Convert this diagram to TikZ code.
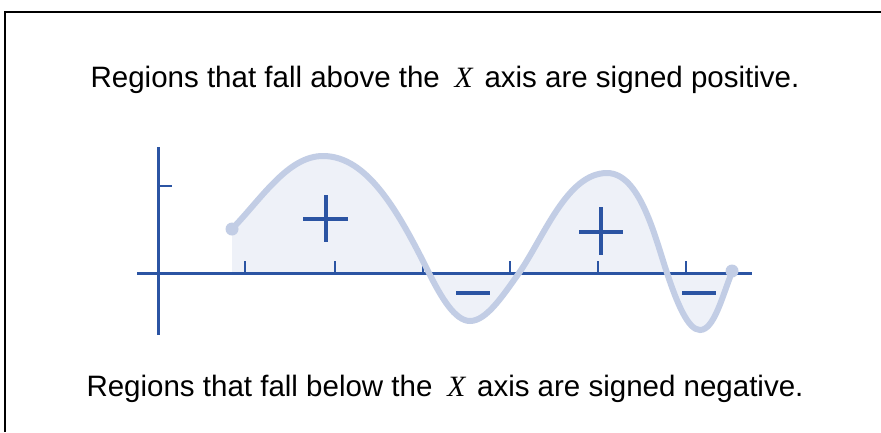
\documentclass[tikz,border=0pt]{standalone}
\usepackage{fontspec}
\setmainfont{Liberation Sans}
\newfontfamily\serifit{Liberation Serif}[ItalicFont={Liberation Serif Italic}]
\definecolor{axisblue}{HTML}{2B54A3}
\definecolor{curveblue}{HTML}{C2CDE5}
\definecolor{fillblue}{HTML}{EEF1F8}
\newcommand{\myX}{\hspace{0.5em}{\serifit\itshape X}\hspace{0.4em}}
\newcommand{\wavepath}{(232,229) .. controls (262,198) and (288,156) .. (323,156)
  .. controls (368,156) and (399,213) .. (429,273)
  .. controls (441,297) and (455,321) .. (470,321)
  .. controls (486,321) and (502,297) .. (519,273)
  .. controls (544,237) and (567,173) .. (607,173)
  .. controls (640,173) and (655,237) .. (667,273)
  .. controls (677,303) and (688,330) .. (700,330)
  .. controls (714,330) and (722,297) .. (732,272)}
\begin{document}
\begin{tikzpicture}[x=1pt,y=-1pt,
  axisline/.style={draw=axisblue,line width=3pt},
  tickline/.style={draw=axisblue,line width=2.5pt},
  signline/.style={draw=axisblue,line width=4.5pt},
  caption/.style={font=\fontsize{29.5}{34}\selectfont,text=black,inner sep=0pt,anchor=base}]
\useasboundingbox (0,0) rectangle (881,432);
\fill[white] (0,0) rectangle (881,432);
% frame
\draw[line width=2pt] (5,432) -- (5,12) -- (881,12);
% fill
\fill[fillblue] \wavepath -- (732,273) -- (232,273) -- cycle;
% axes
\coordinate (xl) at (137,273); \coordinate (xr) at (752,273);
\coordinate (yt) at (158,147); \coordinate (yb) at (158,335);
\draw[axisline] (xl) -- (xr);
\draw[axisline] (yt) -- (yb);
\draw[tickline] (158,186) -- (172,186);
\foreach \x in {245,335,423,510,598,686} \draw[tickline] (\x,273) -- (\x,261);
% curve
\draw[curveblue,line width=6pt,line cap=round] \wavepath;
\fill[curveblue] (232,229) circle (6.5);
\fill[curveblue] (732,271) circle (6.5);
% signs
\draw[signline] (303,219) -- (348,219);
\draw[signline] (326,195) -- (326,242);
\draw[signline] (579,232) -- (623,232);
\draw[signline] (601,207) -- (601,255);
\draw[signline] (456,293) -- (490,293);
\draw[signline] (682,293) -- (716,293);
% texts
\node[caption] (top) at (445,87) {Regions that fall above the\myX axis are signed positive.};
\node[caption] (bot) at (445,396) {Regions that fall below the\myX axis are signed negative.};
\end{tikzpicture}
\end{document}
